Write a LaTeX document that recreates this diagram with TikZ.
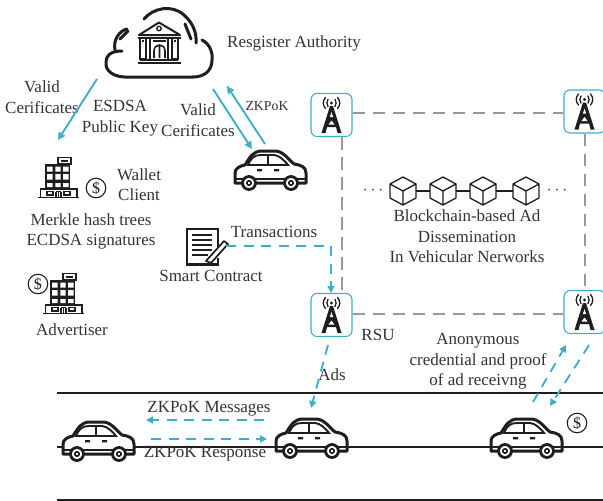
\documentclass[tikz,border=0pt]{standalone}
\usepackage{fontspec}
\setmainfont{Liberation Serif}
\usetikzlibrary{arrows.meta,calc}
\definecolor{tealc}{HTML}{3FAFC9}
\definecolor{grayc}{HTML}{98989C}
\definecolor{inkc}{HTML}{1E1E1E}
\definecolor{textc}{HTML}{333333}
\tikzset{
 lbl/.style={text=textc,font=\fontsize{17}{18.5}\selectfont,inner sep=0pt,align=center,yshift=-1pt},
 smalllbl/.style={text=textc,font=\fontsize{13.8}{16}\selectfont,inner sep=0pt},
 solidarrow/.style={draw=tealc,line width=1.9pt,-{Triangle[length=7.5pt,width=7.5pt]}},
 dasharrow/.style={draw=tealc,line width=1.9pt,dash pattern=on 10pt off 7.5pt,-{Triangle[length=7pt,width=7pt]}},
 chain/.style={draw=grayc,line width=2pt,dash pattern=on 12.5pt off 7.5pt},
 rsubox/.style={draw=tealc,line width=1.1pt,rounded corners=6pt,minimum width=41pt,minimum height=43pt,inner sep=0pt,fill=white},
 road/.style={draw=inkc,line width=1.2pt},
 coin/.style={circle,draw=inkc,line width=1.1pt,minimum size=19.5pt,inner sep=0pt,text=inkc,font=\fontsize{16}{16}\selectfont},
 hub/.style={inner sep=0pt,minimum size=26pt},
 anchorbox/.style={inner sep=0pt,minimum width=74pt,minimum height=40pt},
 bldgbox/.style={inner sep=0pt,minimum width=40pt,minimum height=41pt},
 car/.pic={
  \draw[inkc,line width=3pt,fill=white,line join=round]
   (-35,13) -- (-35,3) .. controls (-35,-2) and (-30,-4) .. (-25,-5)
   .. controls (-20,-13) and (-17,-19) .. (-8,-19) -- (5,-19)
   .. controls (13,-19) and (18,-11) .. (24,-6)
   .. controls (31,-5) and (36,-3) .. (36,3) -- (36,13) -- cycle;
  \draw[inkc,line width=1.9pt] (-22,-5) .. controls (-19,-12) and (-16,-15) .. (-9,-15) -- (4,-15) .. controls (9,-15) and (15,-9) .. (18,-5) -- cycle;
  \draw[inkc,line width=2pt] (-2,-15) -- (-2,-5);
  \fill[inkc] (-13,-1) rectangle (-8,1.4) (4,-1) rectangle (9,1.4);
  \draw[inkc,line width=2pt] (-35,9) -- (36,9);
  \foreach \cx in {-21,21}{
   \draw[inkc,line width=2.8pt,fill=white] (\cx,13) circle (6.5);
   \draw[inkc,line width=1.6pt] (\cx,13) circle (2.2);}
 },
 tower/.pic={
  \fill[inkc] (0,-12) circle (1.6);
  \fill[inkc] (-1.5,-9) -- (1.5,-9) -- (10,18) -- (6,18) -- (4.5,12) -- (-4.5,12) -- (-6,18) -- (-10,18) -- cycle;
  \fill[white] (0,-3) -- (1.6,2) -- (-1.6,2) -- cycle (-3,9.5) -- (0,5.5) -- (3,9.5) -- cycle;
  \draw[inkc,line width=1.3pt,line cap=round]
   (-3.5,-15.5) .. controls (-5,-13.5) and (-5,-10.5) .. (-3.5,-8.5)
   (3.5,-15.5) .. controls (5,-13.5) and (5,-10.5) .. (3.5,-8.5)
   (-6,-17.5) .. controls (-9,-14) and (-9,-10) .. (-6,-6.5)
   (6,-17.5) .. controls (9,-14) and (9,-10) .. (6,-6.5);
 },
 bldg/.pic={
  \fill[inkc] (-13,-13) rectangle (12,12);
  \draw[inkc,line width=1.4pt,fill=white] (0,-19.5) rectangle (13,-13);
  \fill[inkc] (3,-17.5) rectangle (10,-15.2);
  \fill[white] (-11,-10.5) rectangle (-5.5,-5.5) (-2.7,-10.5) rectangle (2.7,-5.5) (5,-10.5) rectangle (10.5,-5.5);
  \fill[white] (-11,-3) rectangle (-5.5,2.5) (-2.7,-3) rectangle (2.7,2.5) (5,-3) rectangle (10.5,2.5);
  \fill[white] (-11,6) rectangle (-5.5,10) (-2.7,6) rectangle (2.7,10) (5,6) rectangle (10.5,10);
  \draw[inkc,line width=1.2pt,fill=white] (-17.5,20) -- (-17.5,12) -- (19,12) -- (19,20);
  \draw[inkc,line width=1.8pt] (-20,20.5) -- (21,20.5);
  \draw[inkc,line width=1.3pt] (-11,14.5) rectangle (-5,18) (6,14.5) rectangle (12,18) (-2,14.5) -- (3,14.5) (-2,14.5)--(-2,20) (0.5,14.5)--(0.5,20) (3,14.5)--(3,20);
 },
 cube/.pic={
  \draw[inkc,line width=1.3pt,fill=white,line join=round]
   (0,-14) -- (13,-7) -- (13,7) -- (0,14) -- (-13,7) -- (-13,-7) -- cycle
   (-13,-7) -- (0,0) -- (13,-7) (0,0) -- (0,14);
 },
}
\begin{document}
\begin{tikzpicture}[x=1pt,y=-1pt]
\useasboundingbox (0,0) rectangle (603,501);
% roads
\coordinate (r1l) at (57,393); \coordinate (r1r) at (603,393);
\coordinate (r2l) at (57,447); \coordinate (r2r) at (603,447);
\coordinate (r3l) at (57,500); \coordinate (r3r) at (603,500);
\draw[road,line width=1.9pt] (r1l) -- (r1r);
\draw[road] (r2l) -- (r2r);
\draw[road] (r3l) -- (r3r);
% cloud
\draw[inkc,line width=3pt,line cap=round]
 (193,77) -- (130,77) .. controls (112,78) and (105,70) .. (106,62) .. controls (106,56) and (110,51) .. (122,51);
\draw[inkc,line width=3pt,line cap=round] (115,50) .. controls (113,40) and (119,31) .. (127,29);
\draw[inkc,line width=3pt,line cap=round] (120,39) -- (128,31);
\draw[inkc,line width=3pt,line cap=round] (144,19) .. controls (153,8) and (172,4) .. (184,15) .. controls (192,22) and (197,32) .. (196,43);
\draw[inkc,line width=3pt,line cap=round] (185,24) -- (191,39);
\draw[inkc,line width=3pt,line cap=round] (202,40) .. controls (210,44) and (213,53) .. (212,60) .. controls (212,71) and (204,77) .. (193,77);
% bank
\draw[inkc,line width=2pt,line join=round] (139,35) -- (159,22.5) -- (180,35) -- cycle;
\draw[inkc,line width=1.4pt] (159,28.5) circle (2.2);
\draw[inkc,line width=2pt] (137.5,37.5) -- (181,37.5) (137.5,63) -- (181,63) (140,59.5) -- (178,59.5);
\draw[inkc,line width=1.5pt] (140,38) rectangle (146,59) (172,38) rectangle (178,59);
\draw[inkc,line width=1.5pt] (142,41) -- (144,41) (174,41) -- (176,41) (150,38) -- (150,59) (168,38) -- (168,59);
\draw[inkc,line width=1.6pt] (154,58) -- (154,51) .. controls (154,43) and (165,43) .. (165,51) -- (165,58) (159.5,46) -- (159.5,58);
\draw[inkc,line width=1.5pt] (153,41) -- (166,41);
% towers
\node[rsubox] (t1) at (331.5,115) {};
\node[rsubox] (t2) at (584.5,111.5) {};
\node[rsubox] (t3) at (331.5,315) {};
\node[rsubox] (t4) at (584.5,312) {};
\pic at (t1) {tower};
\pic at (t2) {tower};
\pic at (t3) {tower};
\pic at (t4) {tower};
\draw[chain] ($(t1.east)+(0,-2)$) -- ($(t2.west)+(0,1.5)$);
\draw[chain] ($(t3.east)+(0,-1.5)$) -- ($(t4.west)+(0,1.5)$);
\draw[chain] ($(t1.south)+(10,0)$) -- ($(t3.north)+(10,0)$);
\draw[chain] (t2.south) -- (t4.north);
% cars
\node[anchorbox] (car0) at (270,170) {};
\node[anchorbox] (car1) at (98,441) {};
\node[anchorbox] (car2) at (311,438) {};
\node[anchorbox] (car3) at (526,438) {};
\pic at (car0) {car};
\pic at (car1) {car};
\pic at (car2) {car};
\pic at (car3) {car};
% buildings and coins
\node[bldgbox] (b1) at (58,177) {};
\node[bldgbox] (b2) at (63,293) {};
\pic at (b1) {bldg};
\pic at (b2) {bldg};
\node[coin] (d1) at (96,188) {\$};
\node[coin] (d2) at (38,284) {\$};
\node[coin] (d3) at (577,423) {\$};
% smart contract
\node[inner sep=0pt,minimum width=44pt,minimum height=36pt] (doc) at (206,247) {};
\draw[inkc,line width=2.2pt,fill=white] (218,250) -- (218,229) -- (187,229) -- (187,264.5) -- (218,264.5) -- (218,258);
\draw[inkc,line width=2.2pt] (192,235) -- (212,235) (192,240) -- (212,240) (192,245) -- (212,245) (192,250) -- (212,250) (192,255) -- (208,255);
\draw[inkc,line width=1.7pt,fill=white,line join=round] (206,261) -- (224,241) -- (228,244) -- (211,263) -- cycle;
\draw[inkc,line width=2pt] (200,263.5) -- (212,263.5);
% blockchain
\node[hub] (c1) at (403,191) {};
\node[hub] (c2) at (443,191) {};
\node[hub] (c3) at (483,191) {};
\node[hub] (c4) at (526,191) {};
\draw[inkc,line width=1.5pt] (c1.east) -- (c2.west);
\draw[inkc,line width=1.5pt] (c2.east) -- (c3.west);
\draw[inkc,line width=1.5pt] (c3.east) -- (c4.west);
\pic at (c1) {cube};
\pic at (c2) {cube};
\pic at (c3) {cube};
\pic at (c4) {cube};
\node[lbl] (dl) at (373,190) {$\cdots$};
\node[lbl] (dr) at (557,190) {$\cdots$};
% labels
\node[lbl,anchor=west] (ra) at (227,42) {Resgister Authority};
\node[lbl] (vc1) at (42,96) {Valid\\[2pt]Cerificates};
\node[lbl] (pk) at (120,117) {ESDSA\\[2pt]Public Key};
\node[lbl] (vc2) at (198,119) {Valid\\[2pt]Cerificates};
\node[smalllbl] (zk) at (267,106) {ZKPoK};
\node[lbl] (wc) at (139,183.5) {Wallet\\[2pt]Client};
\node[lbl] (mk) at (91,230.5) {Merkle hash trees\\[2pt]ECDSA signatures};
\node[lbl] (sc) at (211,275) {Smart Contract};
\node[lbl] (tx) at (274,231) {Transactions};
\node[lbl] (ad) at (72,329) {Advertiser};
\node[lbl] (bc) at (467,235.5) {Blockchain-based Ad\\[2pt]Dissemination\\[2pt]In Vehicular Nerworks};
\node[lbl] (rsu) at (378,334) {RSU};
\node[lbl] (an) at (478,360.5) {Anonymous\\[2pt]credential and proof\\[2pt]of ad receivng};
\node[lbl] (ads) at (332,374) {Ads};
\node[lbl] (zm) at (209,408) {ZKPoK Messages};
\node[lbl] (zr) at (205,453) {ZKPoK Response};
% arrow ends
\coordinate (a1s) at (97,79); \coordinate (a1e) at (58,140);
\coordinate (a2s) at (213,89); \coordinate (a2e) at (252,149);
\coordinate (a3s) at (265,144); \coordinate (a3e) at (227,86);
\coordinate (txs) at (226,246); \coordinate (txe) at (331,293);
\coordinate (ads1) at (328,345); \coordinate (ads2) at (311,408);
\coordinate (p1s) at (533,402); \coordinate (p1e) at (566,345);
\coordinate (p2s) at (589,345); \coordinate (p2e) at (550,406);
\coordinate (m1s) at (264,420); \coordinate (m1e) at (146,420);
\coordinate (m2s) at (151,439); \coordinate (m2e) at (267,439);
\draw[solidarrow] (a1s) -- (a1e);
\draw[solidarrow] (a2s) -- (a2e);
\draw[solidarrow] (a3s) -- (a3e);
\draw[dasharrow] (txs) -- (txs -| txe) -- (txe);
\draw[dasharrow] (ads1) -- (ads2);
\draw[dasharrow] (p1s) -- (p1e);
\draw[dasharrow] (p2s) -- (p2e);
\draw[dasharrow] (m1s) -- (m1e);
\draw[dasharrow] (m2s) -- (m2e);
\end{tikzpicture}
\end{document}
